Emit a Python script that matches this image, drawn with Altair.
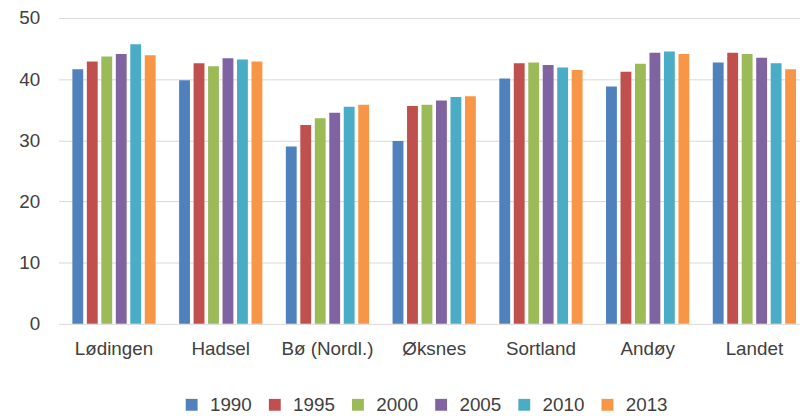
import altair as alt
import pandas as pd

categories = ["Lødingen", "Hadsel", "Bø (Nordl.)", "Øksnes", "Sortland", "Andøy", "Landet"]
years = ["1990", "1995", "2000", "2005", "2010", "2013"]
v1990 = [41.6, 39.8, 29.0, 29.9, 40.1, 38.8, 42.7]
v1995 = [42.9, 42.6, 32.5, 35.6, 42.6, 41.2, 44.3]
v2000 = [43.7, 42.1, 33.6, 35.8, 42.7, 42.5, 44.1]
v2005 = [44.1, 43.4, 34.5, 36.5, 42.3, 44.3, 43.5]
v2010 = [45.7, 43.2, 35.5, 37.1, 41.9, 44.5, 42.6]
v2013 = [43.9, 42.9, 35.8, 37.2, 41.5, 44.1, 41.6]
colors = ["#4F81BD", "#C0504D", "#9BBB59", "#8064A2", "#4BACC6", "#F79646"]

series = [v1990, v1995, v2000, v2005, v2010, v2013]
rows = []
for y, vals in zip(years, series):
    for c, v in zip(categories, vals):
        rows.append({"kommune": c, "year": y, "value": v})
df = pd.DataFrame(rows)

FONT = "Liberation Sans"
TXT = "#404040"

chart = alt.Chart(df).mark_bar().encode(
    x=alt.X("kommune:N", sort=categories, title=None,
            scale=alt.Scale(paddingInner=0.22, paddingOuter=0.13),
            axis=alt.Axis(labelAngle=0, ticks=False, domain=False, labelPadding=16,
                          labelFontSize=19, labelFont=FONT, labelColor=TXT)),
    xOffset=alt.XOffset("year:N", sort=years, scale=alt.Scale(paddingInner=0.25)),
    y=alt.Y("value:Q", title=None,
            scale=alt.Scale(domain=[0, 50]),
            axis=alt.Axis(values=[0, 10, 20, 30, 40, 50], ticks=False, domain=False,
                          labelPadding=19, labelFontSize=19, labelFont=FONT, labelColor=TXT,
                          gridColor="#d9d9d9", gridWidth=1)),
    color=alt.Color("year:N", sort=years,
                    scale=alt.Scale(domain=years, range=colors),
                    legend=alt.Legend(title=None, orient="none", direction="horizontal",
                                      legendX=125, legendY=381,
                                      symbolType="square", symbolSize=144, symbolStrokeWidth=0,
                                      labelFontSize=19, labelFont=FONT, labelColor=TXT,
                                      labelOffset=9, columnPadding=13)),
).properties(
    width=759, height=309,
    autosize=alt.AutoSizeParams(type="none"),
    padding={"left": 51, "top": 8, "right": -10, "bottom": 91},
).configure_view(stroke=None)

chart.save("out.html", embed_options={"renderer": "svg", "actions": False})
